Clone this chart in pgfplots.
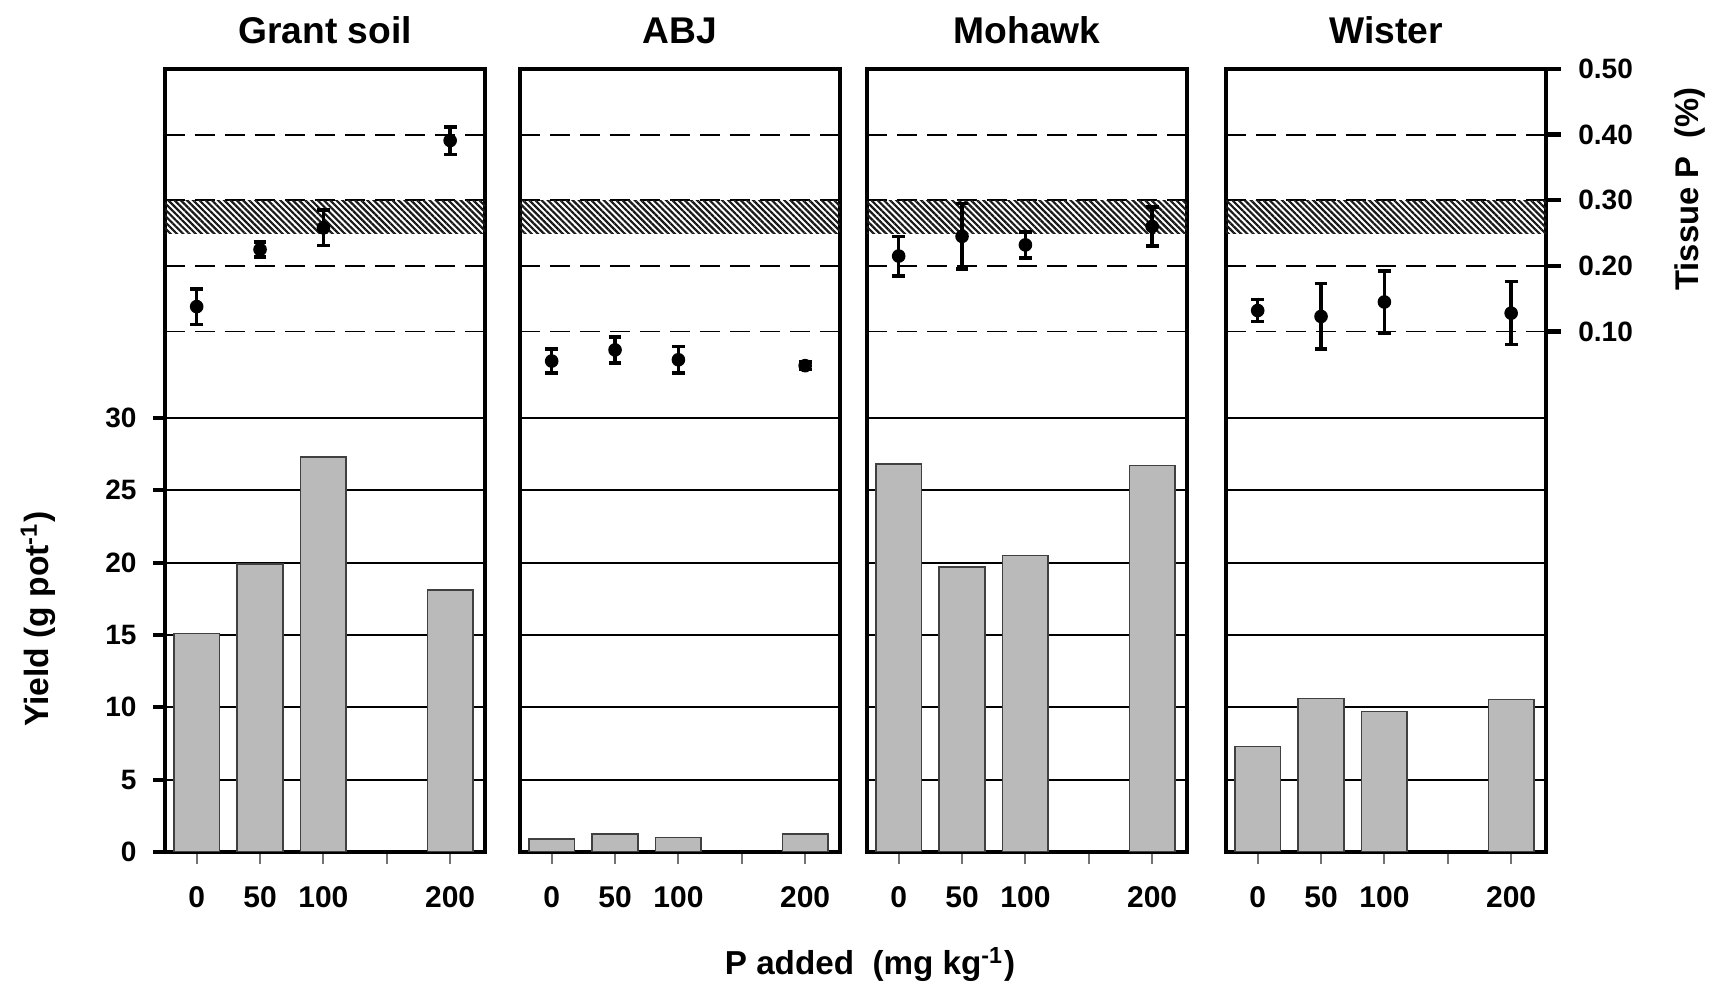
\documentclass[border=0pt]{standalone}
\usepackage{pgfplots}
\pgfplotsset{compat=1.18}
\usepackage{fontspec}
\setmainfont{Liberation Sans}
\usetikzlibrary{patterns.meta}

\pgfplotsset{
  common/.style={scale only axis, width=80pt, height=195.75pt,
    xmin=-0.5, xmax=4.55, /pgf/number format/assume math mode=true},
  yieldax/.style={common, ymin=0, ymax=54.12,
    axis line style={line width=1.2pt},
    tick align=outside, major tick length=3pt,
    xtick={0,1,2,3,4}, xticklabels={0,50,100,,200}, xtick pos=bottom,
    xtick style={draw=black!55, line width=0.5pt},
    xticklabel style={font=\bfseries\fontsize{7.5}{9}\selectfont, yshift=-2.1pt},
    ytick={5,10,15,20,25,30}, yticklabels={}, ytick pos=left,
    ytick style={draw=none},
    ymajorgrids, grid style={black, line width=0.5pt},
    title style={font=\bfseries\fontsize{9.3}{11}\selectfont, at={(0.5,1)}, anchor=base, yshift=0.25pt}},
  pax/.style={common, ymin=-0.693, ymax=0.50,
    axis line style={draw=none}, xtick=\empty,
    ytick={0.1,0.2,0.3,0.4}, yticklabels={}, ytick style={draw=none},
    ymajorgrids, grid style={black, line width=0.45pt, dash pattern=on 5pt off 2.5pt}},
  barst/.style={ybar, bar width=0.72, fill=black!27, draw=black!75, line width=0.4pt},
  bandst/.style={draw=none, pattern={Lines[angle=-45, distance=1.1pt, line width=0.55pt]}, pattern color=black!90},
  ptst/.style={only marks, mark=*, mark size=1.5pt, black,
    error bars/.cd, y dir=both, y explicit,
    error bar style={line width=0.85pt, black},
    error mark options={rotate=90, mark size=1.6pt, line width=0.9pt, black}},
}

\begin{document}
\begin{tikzpicture}
\useasboundingbox (0,0) rectangle (429pt,246pt);

% ---------- Panel 1: Grant soil ----------
\begin{axis}[yieldax, at={(41.25pt,33pt)}, anchor=south west, title={Grant soil},
  ytick={0,5,10,15,20,25,30}, yticklabels={0,5,10,15,20,25,30},
  ytick style={draw=black, line width=1pt},
  yticklabel style={font=\bfseries\fontsize{7}{8}\selectfont, xshift=-0.6pt}]
\addplot[barst] coordinates {(0,15.1) (1,19.9) (2,27.3) (4,18.1)};
\end{axis}
\begin{axis}[pax, at={(41.25pt,33pt)}, anchor=south west]
\addplot[bandst] coordinates {(-0.5,0.25) (4.55,0.25) (4.55,0.30) (-0.5,0.30)} -- cycle;
\addplot[ptst] coordinates {(0,0.138) +- (0,0.027) (1,0.225) +- (0,0.011) (2,0.258) +- (0,0.027) (4,0.391) +- (0,0.021)};
\end{axis}

% ---------- Panel 2: ABJ ----------
\begin{axis}[yieldax, at={(130pt,33pt)}, anchor=south west, title={ABJ}]
\addplot[barst] coordinates {(0,0.9) (1,1.25) (2,1.0) (4,1.25)};
\end{axis}
\begin{axis}[pax, at={(130pt,33pt)}, anchor=south west]
\addplot[bandst] coordinates {(-0.5,0.25) (4.55,0.25) (4.55,0.30) (-0.5,0.30)} -- cycle;
\addplot[ptst] coordinates {(0,0.055) +- (0,0.018) (1,0.072) +- (0,0.02) (2,0.057) +- (0,0.02) (4,0.048) +- (0,0.006)};
\end{axis}

% ---------- Panel 3: Mohawk ----------
\begin{axis}[yieldax, at={(216.75pt,33pt)}, anchor=south west, title={Mohawk}]
\addplot[barst] coordinates {(0,26.8) (1,19.7) (2,20.5) (4,26.7)};
\end{axis}
\begin{axis}[pax, at={(216.75pt,33pt)}, anchor=south west]
\addplot[bandst] coordinates {(-0.5,0.25) (4.55,0.25) (4.55,0.30) (-0.5,0.30)} -- cycle;
\addplot[ptst] coordinates {(0,0.215) +- (0,0.03) (1,0.245) +- (0,0.05) (2,0.232) +- (0,0.02) (4,0.26) +- (0,0.03)};
\end{axis}

% ---------- Panel 4: Wister ----------
\begin{axis}[yieldax, at={(306.5pt,33pt)}, anchor=south west, title={Wister}]
\addplot[barst] coordinates {(0,7.3) (1,10.6) (2,9.7) (4,10.55)};
\end{axis}
\begin{axis}[pax, at={(306.5pt,33pt)}, anchor=south west,
  ytick={0.1,0.2,0.3,0.4,0.5}, yticklabels={0.10,0.20,0.30,0.40,0.50},
  ytick pos=right, yticklabel pos=right, tick align=outside, major tick length=3.75pt,
  ytick style={draw=black, line width=1.1pt},
  yticklabel style={font=\bfseries\fontsize{7}{8}\selectfont, xshift=0.8pt}]
\addplot[bandst] coordinates {(-0.5,0.25) (4.55,0.25) (4.55,0.30) (-0.5,0.30)} -- cycle;
\addplot[ptst] coordinates {(0,0.132) +- (0,0.017) (1,0.123) +- (0,0.05) (2,0.145) +- (0,0.047) (4,0.128) +- (0,0.048)};
\end{axis}

% ---------- Axis labels ----------
\node[rotate=90, font=\bfseries\fontsize{8.4}{10}\selectfont] at (9.5pt,91.25pt) {Yield (g pot\textsuperscript{-1})};
\node[anchor=base, font=\bfseries\fontsize{8.3}{10}\selectfont] at (217.5pt,2.25pt) {P added~~(mg kg\textsuperscript{-1})};
\node[rotate=90, font=\bfseries\fontsize{8.2}{10}\selectfont] at (422.5pt,198.75pt) {Tissue P~~(\%)};
\end{tikzpicture}
\end{document}
